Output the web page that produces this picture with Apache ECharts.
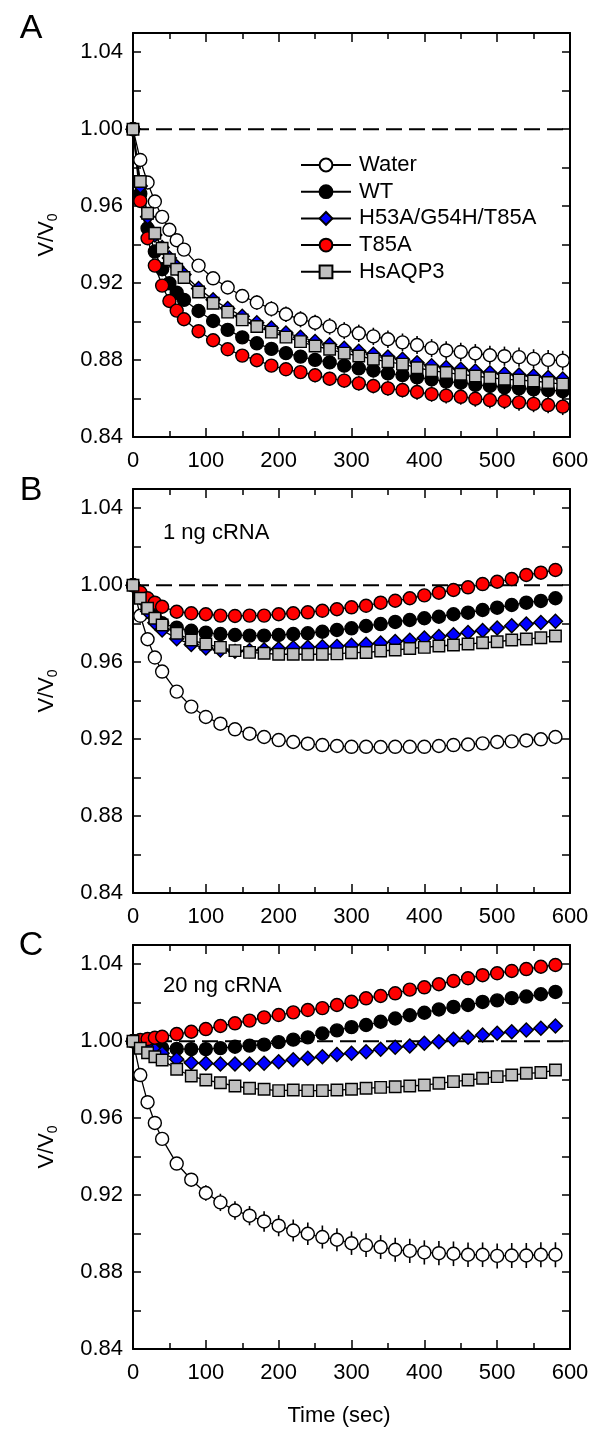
<!DOCTYPE html>
<html>
<head>
<meta charset="utf-8">
<script src="https://cdn.jsdelivr.net/npm/echarts@6/dist/echarts.min.js"></script>
<style>
html,body{margin:0;padding:0;background:#fff;}
#chart{width:600px;height:1440px;}
</style>
</head>
<body>
<div id="chart"></div>
<script>
// ---------------- DATA ----------------
const seriesNames = ['Water', 'WT', 'H53A/G54H/T85A', 'T85A', 'HsAQP3'];

const timesA = [0,10,20,30,40,50,60,70,90,110,130,150,170,190,210,230,250,270,290,310,330,350,370,390,410,430,450,470,490,510,530,550,570,590];
const timesBC = [0,10,20,30,40,60,80,100,120,140,160,180,200,220,240,260,280,300,320,340,360,380,400,420,440,460,480,500,520,540,560,580];

const xTicks = [0,100,200,300,400,500,600];
const yTickLabels = ['0.84','0.88','0.92','0.96','1.00','1.04'];

// Panel A
const A_water = [1.000,0.9840,0.9723,0.9624,0.9544,0.9477,0.9423,0.9374,0.9291,0.9225,0.9177,0.9133,0.9099,0.9066,0.9038,0.9012,0.8994,0.8975,0.8953,0.8939,0.8923,0.8908,0.8892,0.8878,0.8862,0.8850,0.8842,0.8834,0.8825,0.8820,0.8815,0.8806,0.8801,0.8797];
const A_wt = [1.000,0.9665,0.9485,0.9364,0.9272,0.9199,0.9150,0.9113,0.9055,0.9003,0.8957,0.8918,0.8887,0.8858,0.8836,0.8818,0.8801,0.8788,0.8771,0.8757,0.8746,0.8731,0.8722,0.8710,0.8700,0.8688,0.8682,0.8671,0.8665,0.8658,0.8653,0.8648,0.8644,0.8638];
const A_h53a = [1.000,0.9705,0.9545,0.9450,0.9385,0.9330,0.9285,0.9245,0.9172,0.9114,0.9068,0.9028,0.8994,0.8966,0.8941,0.8919,0.8897,0.8880,0.8861,0.8846,0.8830,0.8816,0.8804,0.8786,0.8771,0.8761,0.8752,0.8743,0.8734,0.8727,0.8722,0.8717,0.8709,0.8701];
const A_t85a = [1.000,0.9627,0.9433,0.9291,0.9187,0.9107,0.9057,0.9012,0.8950,0.8903,0.8856,0.8823,0.8799,0.8771,0.8752,0.8737,0.8721,0.8703,0.8693,0.8679,0.8665,0.8653,0.8644,0.8634,0.8623,0.8615,0.8609,0.8599,0.8592,0.8587,0.8580,0.8572,0.8566,0.8558];
const A_hsaqp3 = [1.000,0.9728,0.9563,0.9459,0.9381,0.9321,0.9272,0.9229,0.9154,0.9095,0.9049,0.9009,0.8974,0.8945,0.8919,0.8896,0.8873,0.8856,0.8836,0.8821,0.8805,0.8791,0.8779,0.8760,0.8745,0.8735,0.8726,0.8717,0.8708,0.8701,0.8696,0.8691,0.8683,0.8675];

const A_water_err = [0,0.001,0.0015,0.0018,0.002,0.0022,0.0024,0.0026,0.003,0.0032,0.0034,0.0036,0.0038,0.004,0.004,0.0042,0.0042,0.0043,0.0044,0.0045,0.0045,0.0046,0.0046,0.0047,0.0047,0.0048,0.0048,0.0049,0.0049,0.005,0.005,0.005,0.0051,0.0051];
const A_wt_err = [0,0.001,0.0012,0.0015,0.0018,0.002,0.0022,0.0024,0.0026,0.0028,0.003,0.003,0.0032,0.0032,0.0033,0.0034,0.0034,0.0035,0.0035,0.0035,0.0036,0.0036,0.0036,0.0037,0.0037,0.0037,0.0038,0.0038,0.0038,0.0038,0.0039,0.0039,0.0039,0.004];
const A_h53a_err = [0,0.001,0.0012,0.0014,0.0016,0.0018,0.002,0.0022,0.0024,0.0025,0.0026,0.0027,0.0028,0.0029,0.003,0.003,0.0031,0.0031,0.0032,0.0032,0.0033,0.0033,0.0033,0.0034,0.0034,0.0034,0.0035,0.0035,0.0035,0.0035,0.0036,0.0036,0.0036,0.0036];
const A_t85a_err = [0,0.001,0.0012,0.0015,0.0018,0.002,0.0022,0.0024,0.0026,0.0028,0.003,0.0031,0.0032,0.0033,0.0034,0.0035,0.0036,0.0036,0.0037,0.0038,0.0038,0.0039,0.0039,0.004,0.004,0.0041,0.0041,0.0042,0.0042,0.0042,0.0043,0.0043,0.0043,0.0044];
const A_hsaqp3_err = [0,0.0008,0.001,0.0012,0.0014,0.0016,0.0018,0.002,0.0021,0.0022,0.0023,0.0024,0.0025,0.0025,0.0026,0.0026,0.0027,0.0027,0.0028,0.0028,0.0028,0.0029,0.0029,0.0029,0.003,0.003,0.003,0.003,0.003,0.0031,0.0031,0.0031,0.0031,0.0031];

// Panel B (1 ng cRNA)
const B_water = [1.000,0.9841,0.9719,0.9624,0.9551,0.9447,0.9369,0.9315,0.9280,0.9251,0.9228,0.9211,0.9195,0.9185,0.9176,0.9169,0.9164,0.9160,0.9160,0.9159,0.9160,0.9160,0.9160,0.9164,0.9169,0.9172,0.9178,0.9185,0.9188,0.9193,0.9199,0.9211];
const B_wt = [1.000,0.9955,0.9885,0.9836,0.9802,0.9779,0.9763,0.9753,0.9746,0.9741,0.9738,0.9738,0.9741,0.9746,0.9750,0.9758,0.9767,0.9776,0.9788,0.9798,0.9809,0.9819,0.9828,0.9836,0.9849,0.9857,0.9871,0.9883,0.9897,0.9909,0.9918,0.9932];
const B_h53a = [1.000,0.9935,0.9865,0.9805,0.9767,0.9722,0.9692,0.9673,0.9663,0.9656,0.9660,0.9665,0.9670,0.9675,0.9677,0.9680,0.9682,0.9688,0.9693,0.9699,0.9707,0.9714,0.9725,0.9733,0.9742,0.9754,0.9765,0.9777,0.9789,0.9798,0.9806,0.9813];
const B_t85a = [1.000,0.9963,0.9932,0.9909,0.9888,0.9862,0.9854,0.9849,0.9842,0.9840,0.9842,0.9842,0.9849,0.9854,0.9859,0.9867,0.9875,0.9885,0.9893,0.9909,0.9919,0.9932,0.9947,0.9961,0.9975,0.9989,1.0006,1.0018,1.0032,1.0053,1.0065,1.0079];
const B_hsaqp3 = [1.000,0.9932,0.9880,0.9828,0.9793,0.9750,0.9715,0.9694,0.9677,0.9660,0.9651,0.9646,0.9641,0.9641,0.9641,0.9641,0.9643,0.9649,0.9650,0.9658,0.9663,0.9671,0.9677,0.9684,0.9689,0.9694,0.9701,0.9706,0.9715,0.9720,0.9727,0.9736];

// Panel C (20 ng cRNA)
const C_water = [1.000,0.9824,0.9683,0.9575,0.9492,0.9364,0.9280,0.9211,0.9162,0.9120,0.9093,0.9063,0.9041,0.9016,0.8999,0.8982,0.8968,0.8950,0.8940,0.8930,0.8916,0.8910,0.8902,0.8898,0.8895,0.8890,0.8890,0.8884,0.8886,0.8886,0.8890,0.8890];
const C_wt = [1.000,0.9995,0.9982,0.9972,0.9964,0.9960,0.9959,0.9959,0.9964,0.9971,0.9977,0.9982,0.9995,1.0008,1.0020,1.0040,1.0056,1.0073,1.0084,1.0101,1.0118,1.0135,1.0148,1.0165,1.0178,1.0188,1.0204,1.0212,1.0224,1.0232,1.0244,1.0256];
const C_h53a = [1.000,0.9990,0.9968,0.9954,0.9937,0.9906,0.9888,0.9885,0.9881,0.9881,0.9881,0.9885,0.9893,0.9903,0.9911,0.9919,0.9931,0.9937,0.9945,0.9958,0.9968,0.9975,0.9989,0.9997,1.0010,1.0020,1.0032,1.0041,1.0049,1.0058,1.0067,1.0079];
const C_t85a = [1.000,1.0006,1.0011,1.0018,1.0023,1.0037,1.0049,1.0063,1.0079,1.0093,1.0107,1.0124,1.0136,1.0150,1.0162,1.0172,1.0188,1.0205,1.0223,1.0235,1.0249,1.0268,1.0280,1.0296,1.0313,1.0327,1.0343,1.0353,1.0365,1.0375,1.0387,1.0396];
const C_hsaqp3 = [1.000,0.9963,0.9940,0.9919,0.9902,0.9854,0.9819,0.9798,0.9784,0.9767,0.9755,0.9750,0.9743,0.9746,0.9743,0.9743,0.9746,0.9750,0.9755,0.9760,0.9763,0.9767,0.9772,0.9781,0.9790,0.9798,0.9807,0.9816,0.9824,0.9833,0.9837,0.9850];
const C_water_err = [0,0.001,0.0015,0.002,0.0025,0.003,0.0035,0.004,0.0045,0.0048,0.005,0.0053,0.0055,0.0057,0.0058,0.006,0.006,0.0061,0.0062,0.0062,0.0062,0.0063,0.0063,0.0063,0.0064,0.0064,0.0064,0.0065,0.0065,0.0065,0.0065,0.0065];

const panelLetters = ['A', 'B', 'C'];
const panelNotes = ['', '1 ng cRNA', '20 ng cRNA'];

// ---------------- BUILD ----------------
const FONT = "'Liberation Sans', Arial, Helvetica, sans-serif";
const FS = 22;
const styles = [
  {symbol:'circle', size:13, color:'#ffffff'},
  {symbol:'circle', size:13, color:'#000000'},
  {symbol:'diamond', size:14, color:'#0000ff'},
  {symbol:'circle', size:13, color:'#ff0000'},
  {symbol:'rect', size:11.5, color:'#c0c0c0'}
];
const panels = [
  {times: timesA, vals: [A_water, A_wt, A_h53a, A_t85a, A_hsaqp3], errs: [A_water_err, A_wt_err, A_h53a_err, A_t85a_err, A_hsaqp3_err]},
  {times: timesBC, vals: [B_water, B_wt, B_h53a, B_t85a, B_hsaqp3], errs: [null, null, null, null, null]},
  {times: timesBC, vals: [C_water, C_wt, C_h53a, C_t85a, C_hsaqp3], errs: [C_water_err, null, null, null, null]}
];
const gridTops = [33, 489, 945];
const GL = 133, GW = 437, GH = 404;

const grid = [], xAxis = [], yAxis = [], series = [];
const axLine = {show:true, onZero:false, lineStyle:{color:'#000', width:2}};
const tickStyle = {color:'#000', width:1.5};

function errRender(params, api) {
  const x = api.value(0), y = api.value(1), e = api.value(2);
  if (!e) return null;
  const p1 = api.coord([x, y + e]);
  const p2 = api.coord([x, y - e]);
  return {type:'line', shape:{x1:p1[0], y1:p1[1], x2:p2[0], y2:p2[1]}, style:{stroke:'#000', lineWidth:1.6}};
}

panels.forEach((p, pi) => {
  grid.push({left: GL, top: gridTops[pi], width: GW, height: GH});
  const xBase = {
    gridIndex: pi, type:'value', min: xTicks[0], max: xTicks[xTicks.length-1], interval: xTicks[1]-xTicks[0],
    axisLine: axLine,
    axisTick: {show:true, inside:true, length:9, lineStyle:tickStyle},
    minorTick: {show:true, splitNumber:2, length:6, lineStyle:tickStyle},
    splitLine: {show:false}, minorSplitLine:{show:false}
  };
  xAxis.push(Object.assign({}, xBase, {
    position:'bottom',
    axisLabel:{show:true, color:'#000', fontSize:FS, fontFamily:FONT, margin:13}
  }));
  xAxis.push(Object.assign({}, xBase, {position:'top', axisLabel:{show:false}}));
  const yBase = {
    gridIndex: pi, type:'value', min: 0.84, max: 1.05, interval: 0.02,
    axisLine: axLine,
    axisTick: {show:true, inside:true, length:8, lineStyle:tickStyle},
    splitLine: {show:false}
  };
  yAxis.push(Object.assign({}, yBase, {
    position:'left',
    axisLabel:{show:true, color:'#000', fontSize:FS, fontFamily:FONT, margin:10,
      formatter: v => { const s = v.toFixed(2); return yTickLabels.indexOf(s) >= 0 ? s : ''; }},
    name: '{m|V/V}{s|0}', nameLocation:'middle', nameGap: 73,
    nameTextStyle: {color:'#000', rich: {
      m: {fontSize:FS, fontFamily:FONT, color:'#000'},
      s: {fontSize:14, fontFamily:FONT, color:'#000', verticalAlign:'bottom', padding:[12,0,0,0]}
    }}
  }));
  yAxis.push(Object.assign({}, yBase, {position:'right', axisLabel:{show:false}}));

  const xi = pi * 2, yi = pi * 2;
  series.push({
    type:'line', name:'ref' + pi, xAxisIndex:xi, yAxisIndex:yi,
    data: [[xTicks[0], 1], [xTicks[xTicks.length-1], 1]],
    symbol:'none', silent:true, z:1,
    lineStyle:{color:'#000', width:2, type:[16,7]}
  });
  p.vals.forEach((vals, si) => {
    const err = p.errs[si];
    if (err) {
      series.push({
        type:'custom', name:'err' + pi + '_' + si, xAxisIndex:xi, yAxisIndex:yi,
        renderItem: errRender, z:2, silent:true,
        encode:{x:0, y:1},
        data: p.times.map((t, i) => [t, vals[i], err[i]])
      });
    }
  });
  p.vals.forEach((vals, si) => {
    const st = styles[si];
    series.push({
      type:'line', name: seriesNames[si], xAxisIndex:xi, yAxisIndex:yi,
      data: p.times.map((t, i) => [t, vals[i]]),
      symbol: st.symbol, symbolSize: st.size, showAllSymbol:true, silent:true,
      z:3,
      lineStyle:{color:'#000', width:1.3},
      itemStyle:{color: st.color, borderColor:'#000', borderWidth:1.4, opacity:1}
    });
  });
});

const letterY = [29, 491, 946];
const graphic = [];
panelLetters.forEach((L, i) => {
  graphic.push({type:'text', x:31, y:letterY[i], style:{text:L, fontSize:34, fontFamily:FONT, fill:'#000', align:'center', verticalAlign:'middle'}});
});
const noteY = [0, 533, 986];
panelNotes.forEach((n, i) => {
  if (n) graphic.push({type:'text', x:163, y:noteY[i], style:{text:n, fontSize:FS, fontFamily:FONT, fill:'#000', align:'left', verticalAlign:'middle'}});
});
graphic.push({type:'text', x:339, y:1416, style:{text:'Time (sec)', fontSize:FS, fontFamily:FONT, fill:'#000', align:'center', verticalAlign:'middle'}});

const option = {
  animation:false,
  backgroundColor:'#fff',
  grid, xAxis, yAxis, series, graphic,
  legend: {
    data: seriesNames, orient:'vertical', left:300, top:154,
    itemWidth:50, itemHeight:16, itemGap:4.7, padding:0, selectedMode:false,
    textStyle:{fontSize:FS, color:'#000', fontFamily:FONT, padding:[0,0,0,3]}
  }
};

const chart = echarts.init(document.getElementById('chart'), null, {renderer:'canvas'});
chart.setOption(option);
</script>
</body>
</html>
